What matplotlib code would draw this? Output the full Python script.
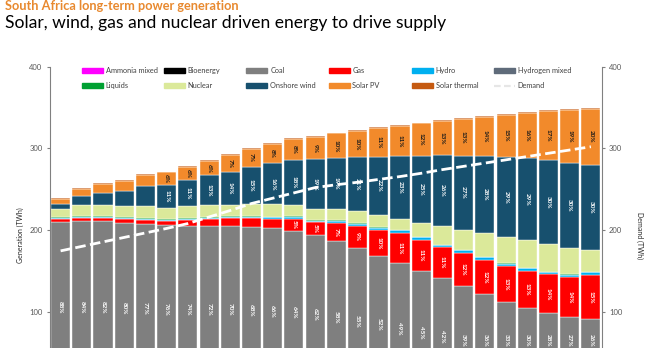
import numpy as np
import matplotlib
matplotlib.use("Agg")
import matplotlib.pyplot as plt
from matplotlib.patches import Rectangle
from matplotlib.lines import Line2D

plt.rcParams['font.family'] = ['Lato', 'DejaVu Sans']

years = list(range(2025, 2051))

# generation by technology (TWh), stacked bottom -> top in legend order
ammonia = [0] * 26
bioenergy = [0] * 26
coal = [210, 211, 210.5, 209, 208, 206.5, 205.5, 205, 205, 204, 202, 199, 194,
        186, 177.5, 168, 159.5, 150, 141, 131, 122, 112.5, 104, 98, 94, 91]
gas = [3.5, 3.7, 4, 4.5, 4.7, 4.5, 6.5, 8.5, 9.5, 10.5, 12, 15, 15.5,
       23, 28, 32.5, 37, 38, 38, 41, 41.5, 43, 46, 48, 48, 54]
hydro = [1.0, 1.0, 1.0, 1.0, 1.0, 1.0, 1.2, 1.2, 1.5, 1.5, 1.5, 1.8, 2.0,
         2.3, 2.4, 2.4, 3.0, 3.0, 2.8, 3.0, 3.0, 3.5, 3.0, 2.8, 3.5, 3.5]
hydrogen = [0] * 26
liquids = [1.5, 1.5, 1.5, 1.5, 1.5, 1.5, 1.2, 1.2, 1.0, 1.0, 1.0, 0.8, 0.6,
           0.5, 0.5, 0.5, 0.5, 0.5, 0.4, 0.4, 0.4, 0.4, 0.3, 0.3, 0.3, 0.3]
nuclear = [9.5, 13.5, 14, 14, 14, 13, 15, 15, 14, 15, 15, 14, 14,
           14, 14.5, 15, 14, 17, 22.5, 25, 29.5, 31.5, 34, 33.5, 32, 26.5]
wind = [7, 11, 14.5, 18, 25, 29, 32, 36, 40.5, 45.5, 50, 55, 60.5,
        62, 67, 71.5, 76.5, 82.5, 87, 90.5, 94, 99, 100.5, 103, 104, 104.5]
solar_pv = [5.5, 8.5, 10.5, 12, 13.5, 15, 16, 18, 20.5, 21.5, 23.5, 25.5, 27.5,
            30.5, 31.5, 35, 37, 39.5, 42, 45, 48.5, 51, 56, 60, 65.5, 69]
solar_thermal = [1.0] * 26

demand = [174.5, 180, 185.5, 191, 196.5, 202, 208, 216, 224, 232.5, 239, 245.5, 252,
          255.5, 258.5, 262, 265.5, 269.5, 274, 278, 282, 286, 290, 294, 298, 302]

series = [
    ('Ammonia mixed', ammonia, '#ff00ff'),
    ('Bioenergy', bioenergy, '#000000'),
    ('Coal', coal, '#7f7f7f'),
    ('Gas', gas, '#ff0000'),
    ('Hydro', hydro, '#00b0f0'),
    ('Hydrogen mixed', hydrogen, '#5f6b7a'),
    ('Liquids', liquids, '#00a032'),
    ('Nuclear', nuclear, '#dbe99a'),
    ('Onshore wind', wind, '#17506e'),
    ('Solar PV', solar_pv, '#f28a2b'),
    ('Solar thermal', solar_thermal, '#c55a11'),
]

# share labels: minimum segment size (TWh) before a label is written
label_min = {'Coal': 0, 'Gas': 14, 'Onshore wind': 27, 'Solar PV': 14.5}
label_color = {'Coal': 'white', 'Gas': 'white', 'Onshore wind': 'white', 'Solar PV': '#1a1a1a'}

ymin, ymax = 55.6, 400

fig = plt.figure(figsize=(6.56, 3.48), dpi=100)
ax = fig.add_axes([50 / 656, 0, 551.5 / 656, 281.3 / 348])

x = np.arange(len(years))
total = np.zeros(len(years))
for name, vals, color in series:
    total += np.array(vals, dtype=float)

bottom = np.zeros(len(years))
for name, vals, color in series:
    vals = np.array(vals, dtype=float)
    ax.bar(x, vals, 0.9, bottom=bottom, color=color, edgecolor='white', linewidth=0.3)
    if name in label_min:
        for i in range(len(years)):
            if vals[i] >= label_min[name] and vals[i] > 0:
                # keep the label inside the visible part of the axis
                ypos = max(bottom[i] + vals[i] / 2, ymin + 9)
                ax.text(x[i], ypos, f'{vals[i] / total[i] * 100:.0f}%',
                        rotation=270, ha='center', va='center', fontsize=4.6,
                        fontweight='bold', color=label_color[name])
    bottom += vals

ax.set_xlim(-0.5, 25.5)
ax.set_ylim(ymin, ymax)
ax.set_yticks([100, 200, 300, 400])
ax.set_xticks([])
for s in ['top', 'bottom', 'right']:
    ax.spines[s].set_visible(False)
ax.spines['left'].set_color('#808080')
ax.spines['left'].set_linewidth(0.8)
ax.tick_params(axis='y', labelsize=5.5, labelcolor='#595959', color='#808080',
               length=2.5, width=0.8, pad=3)

ax2 = ax.twinx()
ax2.set_ylim(ymin, ymax)
ax2.set_yticks([100, 200, 300, 400])
for s in ['top', 'bottom', 'left']:
    ax2.spines[s].set_visible(False)
ax2.spines['right'].set_color('#808080')
ax2.spines['right'].set_linewidth(0.8)
ax2.tick_params(axis='y', labelsize=5.5, labelcolor='#595959', color='#808080',
                length=2.5, width=0.8, pad=3)
ax2.plot(x, demand, color='white', lw=2.0, ls=(0, (3.8, 1.6)))

fig.text(20 / 656, 1 - 235 / 348, 'Generation (TWh)', rotation=90, ha='center',
         va='center', fontsize=5, color='#262626')
fig.text(640 / 656, 1 - 236 / 348, 'Demand (TWh)', rotation=270, ha='center',
         va='center', fontsize=5, color='#262626')

# legend laid out in a 6 x 2 grid across the top of the plot
col_x = [81.5, 163.5, 246.5, 328.5, 411.5, 493.5]
row_y = [70.5, 85.5]
entries = [(name, color) for name, vals, color in series] + [('Demand', None)]
for k, (name, color) in enumerate(entries):
    px, py = col_x[k % 6], row_y[k // 6]
    fx, fy = px / 656, 1 - py / 348
    if color is None:
        fig.add_artist(Line2D([fx, fx + 21 / 656], [fy, fy], color='#e6e6e6', lw=1.6,
                              ls=(0, (3, 1.5)), transform=fig.transFigure))
    else:
        fig.add_artist(Rectangle((fx, fy - 2.5 / 348), 21 / 656, 5 / 348, color=color,
                                 transform=fig.transFigure))
    fig.text(fx + 24 / 656, fy, name, ha='left', va='center', fontsize=5.3, color='#404040')

fig.text(5 / 656, 1 - 6 / 348, 'South Africa long-term power generation', ha='left',
         va='center', fontsize=9.2, fontweight='bold', color='#e8892f')
fig.text(5 / 656, 1 - 23 / 348, 'Solar, wind, gas and nuclear driven energy to drive supply',
         ha='left', va='center', fontsize=12.6, color='#000000')

fig.savefig('out.png', dpi=100)
